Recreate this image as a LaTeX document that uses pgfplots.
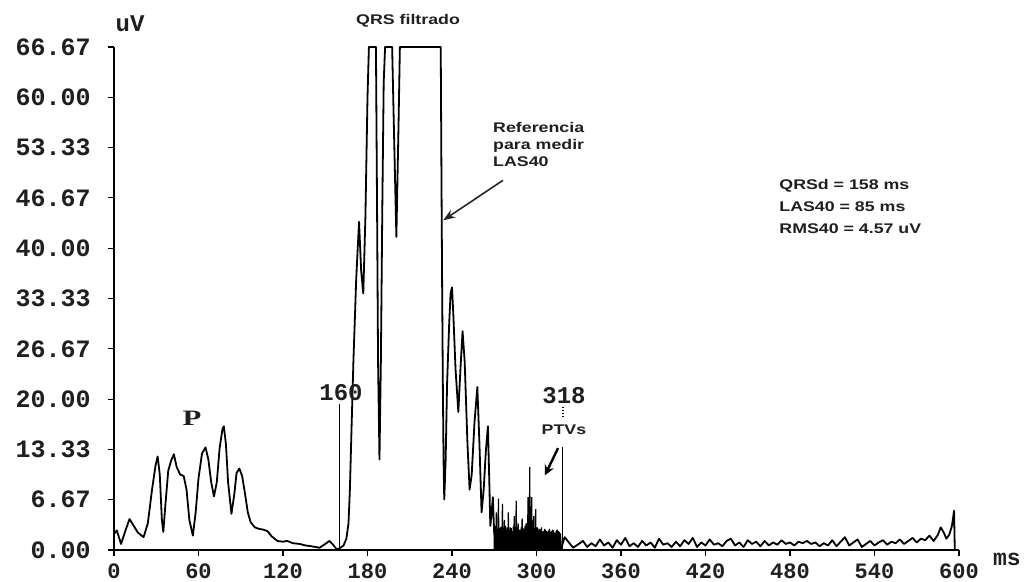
\documentclass[border=0pt]{standalone}
\usepackage{pgfplots}
\pgfplotsset{compat=1.18}
\usepackage{fontspec}
\setmainfont{Liberation Sans}
\newfontfamily\monofnt{Liberation Mono}
\newfontfamily\annotfnt[FakeStretch=1.27]{Liberation Sans}
\newfontfamily\seriffnt[FakeStretch=1.4]{Liberation Serif}
\usetikzlibrary{arrows.meta}

% signal-averaged ECG magnitude (uV) against time (ms)
\pgfplotstableread{
t v
0 2.1
2 2.6
5 0.8
8 2.5
11 4.1
14 3.2
17 2.3
21 1.7
24 3.5
27 8
29.5 11.2
31 12.4
32.5 10
34 4
35 2.4
36.5 6
38.5 10.5
40.5 11.8
42.5 12.7
44.5 11
47 10
49.5 9.8
51.5 8
53.5 4
56 1.9
58 5
60 9.5
62.5 12.8
65 13.6
67 12
69 9
71 7.1
73 9
75 13.5
77 16
78 16.4
79.5 14
81 9
83.4 4.8
85.5 7.5
87 10.2
89 10.8
91 9.8
93 7.5
95 5
97 3.7
100 3
103 2.8
106 2.7
109 2.5
112 1.8
116 1.2
120 1.1
123 1.2
127 0.9
132 0.8
136 0.6
140 0.5
146 0.3
150 0.8
153 1.2
156 0.6
158 0.1
160 0.2
163 0.6
165 1.5
166.5 3.5
167.5 8
168.5 15
170 25
172 36
174 43.5
175.5 37
177 34
178.5 44
180 60
181 66.67
186 66.67
186.8 45
187.5 25
188.5 12
189.5 25
190.5 45
191.5 62
192.5 66.67
197.5 66.67
198.5 58
200.5 41.5
202 56
203 66.67
232 66.67
232.5 50
233 35
233.5 22
234 12
234.5 6.7
235.5 12
236.5 22
238 30
239 34
240 34.8
241 31
242.5 24
244.5 18.3
246 24
247.5 29
249 25
251 14
252.5 8
254 10
256 17
258 21.6
259.5 14
261 5
262.5 8
264 13
265.5 16.4
266.5 9
267.2 3.2
268.2 5
269 7
270 2
}\ecgqrs

% late potential zone: fast low-amplitude oscillation
\pgfplotstableread{
t v
270 2
270.4 0.3
270.8 3.2
271.2 0.4
271.5 5
271.9 0.5
272.2 2.8
272.6 0.5
273 6.8
273.3 0.4
273.7 2.9
274 0.3
274.4 3
274.8 0.2
275.1 3.1
275.5 0.2
275.8 6.1
276.1 0.4
276.5 2.9
276.8 0.4
277.2 4
277.5 0.3
277.9 3.2
278.2 0.3
278.6 2.8
278.9 0.2
279.3 3
279.6 0.2
280 5
280.3 0.5
280.7 2.7
281 0.5
281.4 3
281.7 0.2
282.1 2.9
282.4 0.2
282.8 2.5
283.1 0.3
283.5 3.1
283.8 0.3
284.2 4.5
284.5 0.4
284.9 2.8
285.2 0.4
285.6 6.5
285.9 0.3
286.3 3
286.6 0.3
287 3.5
287.3 0.2
287.7 2.7
288 0.2
288.4 2.6
288.7 0.4
289.1 3
289.4 0.4
289.8 4.2
290.1 0.3
290.5 2.9
290.8 0.3
291.2 2.8
291.5 0.2
291.9 3.2
292.2 0.2
292.6 3.5
292.9 0.5
293.3 3.6
293.6 0.5
294 7
294.3 0.6
294.6 3.8
294.9 0.6
295.2 11
295.5 0.8
295.9 3.5
296.2 0.8
296.6 7
296.9 0.4
297.3 3.1
297.6 0.4
298 4.5
298.3 0.3
298.7 2.9
299 0.3
299.4 5.4
299.7 0.4
300.1 3
300.4 0.4
300.8 3
301.1 0.3
301.5 2.6
301.8 0.3
302.2 2.8
302.5 0.2
302.9 2.7
303.2 0.2
303.6 3
303.9 0.4
304.3 2.4
304.6 0.4
305 2.5
305.3 0.3
305.7 2.8
306 0.3
306.4 2.7
306.7 0.2
307.1 2.5
307.4 0.2
307.8 2.4
308.1 0.4
308.5 2.6
308.8 0.4
309.2 2.8
309.5 0.3
309.9 2.4
310.2 0.3
310.6 2.5
310.9 0.2
311.3 2.7
311.6 0.2
312 2.6
312.3 0.4
312.7 2.3
313 0.4
313.4 2.3
313.7 0.3
314.1 2.6
314.4 0.3
314.8 2.7
315.1 0.5
315.5 2.5
315.8 0.5
316.2 2.4
316.6 0.6
317 2.2
317.5 0.6
318 0.5
}\ecglp

% baseline after the QRS complex
\pgfplotstableread{
t v
318 0.5
320 1.7
323 1.0
326 0.3
330 0.8
333 1.2
336 0.4
339 0.9
342 0.5
345 1.4
348 0.6
351 1.0
354 0.3
357 1.3
360 0.7
363 1.6
366 0.5
369 0.9
372 0.4
375 1.2
378 0.6
381 1.0
384 0.3
387 1.5
390 0.7
393 0.9
396 0.4
399 1.1
402 0.5
405 1.3
408 0.8
411 1.6
414 0.4
417 1.0
420 0.6
423 1.4
426 0.7
429 0.9
432 0.5
435 1.2
438 1.5
441 0.6
444 1.0
447 0.4
450 1.3
453 0.8
456 1.1
459 0.5
462 1.2
465 0.6
468 1.0
471 0.7
474 1.3
477 0.8
480 1.0
483 0.6
486 1.1
489 0.9
492 1.2
495 0.8
498 1.0
501 0.5
504 0.9
507 0.6
510 1.3
513 0.5
516 1.1
519 1.7
522 0.6
525 1.0
528 1.4
531 0.4
534 0.8
537 1.2
540 0.6
543 1.0
546 1.3
549 0.7
552 1.1
555 0.9
558 1.4
561 0.8
564 1.2
567 1.6
570 1.0
573 1.5
576 1.3
579 1.9
582 1.2
585 2.0
587 3.0
589.5 2.2
591 1.5
593 2.0
595 3.2
596.5 5.2
597 0.1
}\ecgtail

\begin{document}
\begin{tikzpicture}
\path[use as bounding box] (-57pt,-16pt) rectangle (457pt,275pt);
\begin{axis}[
  at={(0pt,0pt)}, anchor=south west,
  scale only axis, width=422.5pt, height=251.5pt,
  xmin=0, xmax=600, ymin=0, ymax=66.67,
  axis x line=bottom, axis y line=left,
  axis line style={-, line width=0.7pt, black},
  clip=false,
  tick align=outside,
  major tick length=3pt,
  tick style={line width=0.6pt, black},
  xtick={0,60,...,600},
  xticklabels={0,60,120,180,240,300,360,420,480,540,600},
  ytick={0,6.67,13.33,20,26.67,33.33,40,46.67,53.33,60,66.67},
  yticklabels={0.00,6.67,13.33,20.00,26.67,33.33,40.00,46.67,53.33,60.00,66.67},
  xticklabel style={font=\monofnt\bfseries\fontsize{11}{12}\selectfont, inner sep=0pt, anchor=north, yshift=-3.5pt},
  yticklabel style={font=\monofnt\bfseries\fontsize{12.5}{13}\selectfont, inner sep=0pt, anchor=east, xshift=-8.5pt},
  text=black!88,
]
% time markers at QRS onset and end
\addplot[black, line width=0.6pt] coordinates {(160,0) (160,19.3)};
\addplot[black, line width=0.6pt] coordinates {(318.5,0) (318.5,13.6)};
% filtered QRS magnitude
\addplot[black, line width=0.9pt, line join=round] table[x=t, y=v] {\ecgqrs};
\addplot[black, fill=black, line width=0.6pt] table[x=t, y=v] {\ecglp} \closedcycle;
\addplot[black, line width=0.9pt, line join=round] table[x=t, y=v] {\ecgtail};

\node[font=\monofnt\bfseries\fontsize{12}{12}\selectfont] at (axis cs:11.4,69.8) {uV};
\node[font=\monofnt\bfseries\fontsize{11.5}{12}\selectfont] at (axis cs:634,-1.3) {ms};
\node[font=\annotfnt\bfseries\fontsize{7}{8}\selectfont] at (axis cs:208.8,70.2) {QRS filtrado};
\node[font=\annotfnt\bfseries\fontsize{7}{8.5}\selectfont, align=left, anchor=west, inner sep=0pt] at (axis cs:269,53.8) {Referencia\\para medir\\LAS40};
\draw[black!85, line width=0.8pt, -{Stealth[length=6pt,width=4.5pt]}] (axis cs:276.2,49.0) -- (axis cs:233.8,43.7);
\node[font=\annotfnt\bfseries\fontsize{7}{11}\selectfont, align=left, anchor=west, inner sep=0pt] at (axis cs:472.2,45.5) {QRSd = 158 ms\\LAS40 = 85 ms\\RMS40 = 4.57 uV};
\node[font=\seriffnt\bfseries\fontsize{11}{12}\selectfont] at (axis cs:55.4,17.5) {P};
\node[font=\monofnt\bfseries\fontsize{12}{12}\selectfont] at (axis cs:161.2,20.8) {160};
\node[font=\monofnt\bfseries\fontsize{12}{12}\selectfont] at (axis cs:319.5,20.5) {318};
\draw[black, line width=0.6pt, densely dotted] (axis cs:318.8,19) -- (axis cs:318.8,17.6);
\node[font=\annotfnt\bfseries\fontsize{7}{8}\selectfont] at (axis cs:319.5,15.9) {PTVs};
\draw[black, line width=1.2pt, -{Stealth[length=5pt,width=5pt]}] (axis cs:315.3,13.5) -- (axis cs:306.0,9.9);
\end{axis}
\end{tikzpicture}
\end{document}
